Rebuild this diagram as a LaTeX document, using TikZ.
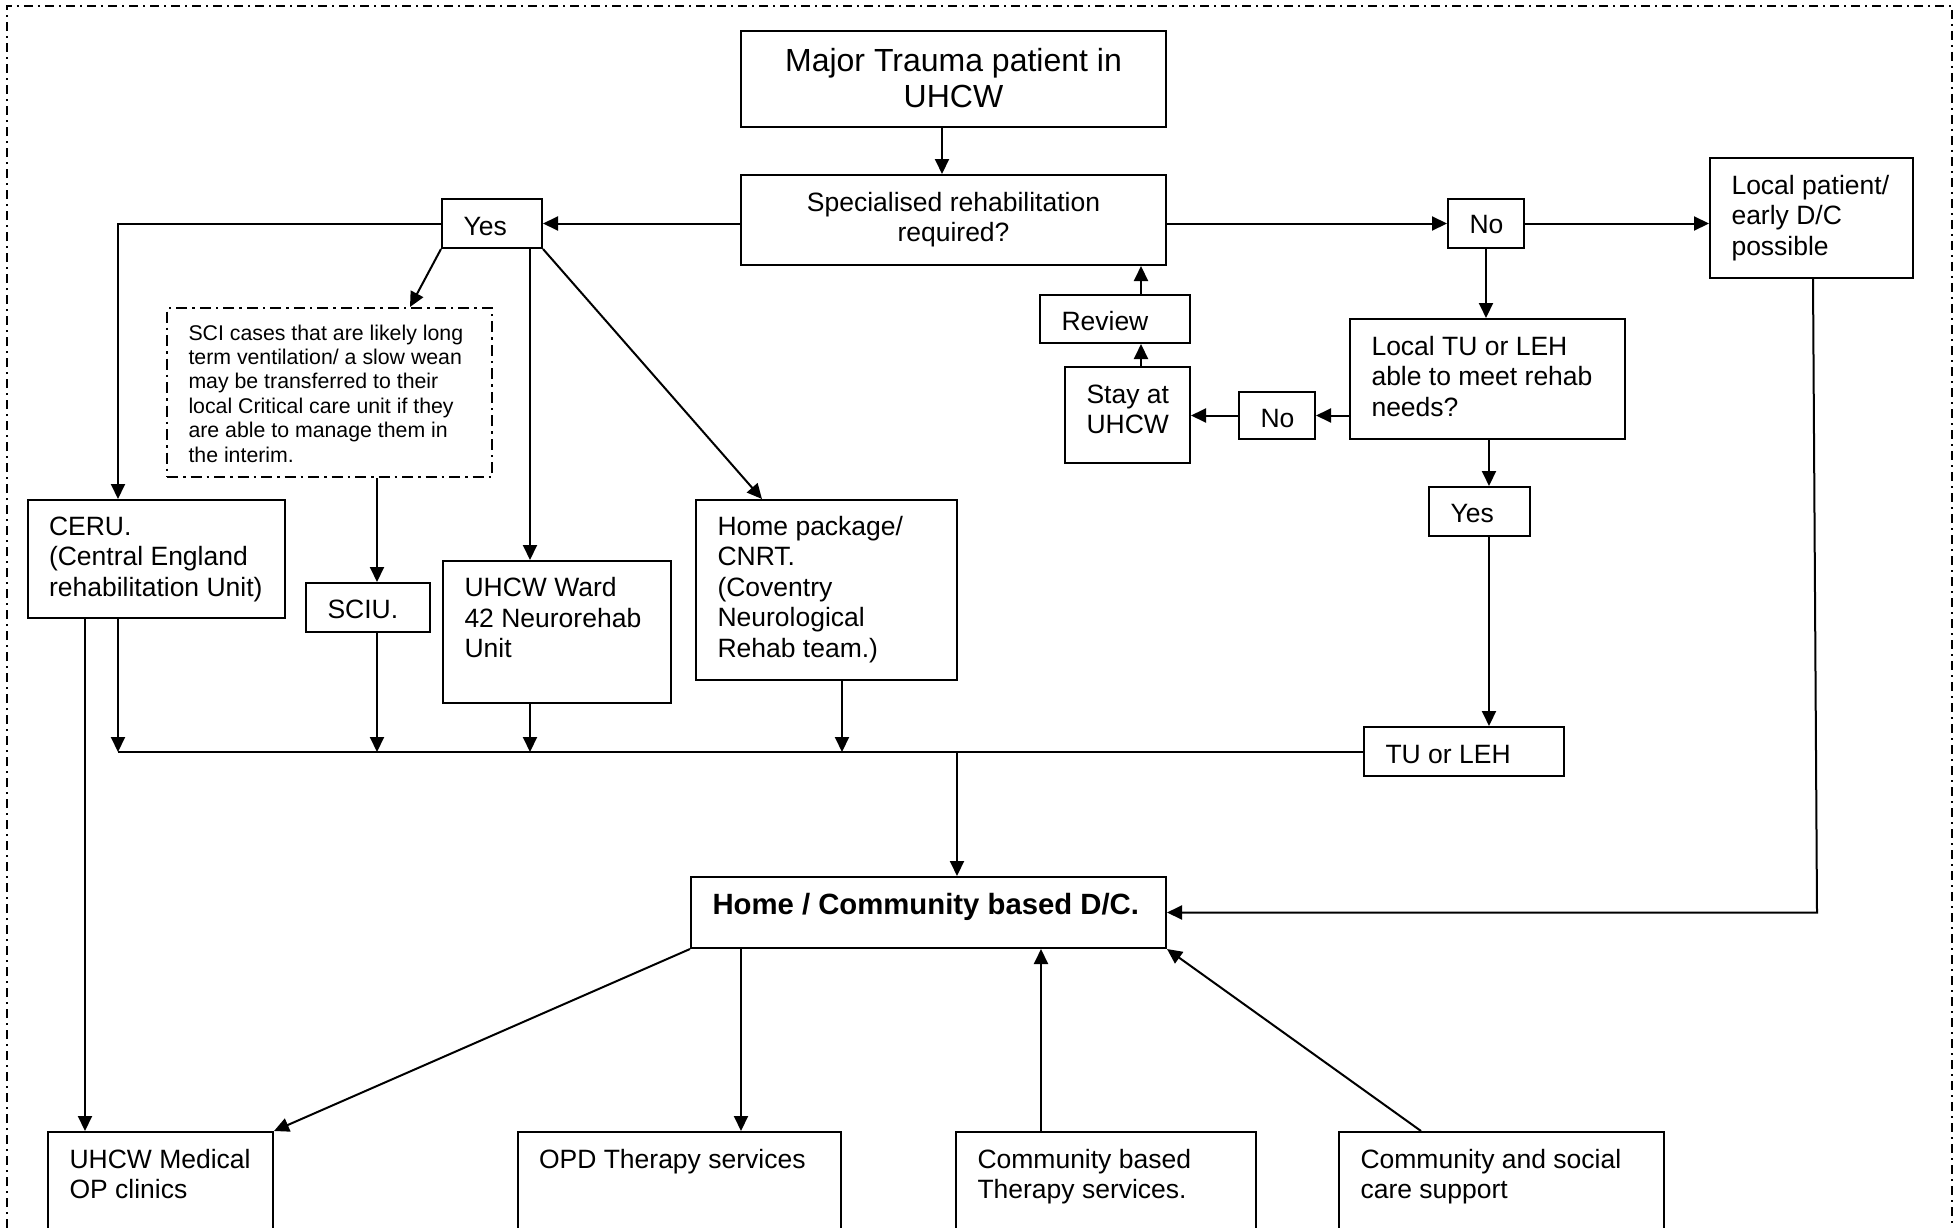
\documentclass[tikz,border=0pt]{standalone}
\usepackage{fontspec}
\setmainfont{Liberation Sans}
\usetikzlibrary{arrows.meta}
% left-aligned box: name, x1, y1, x2, y2, style, first baseline, text
\newcommand\lbox[8]{%
  \node[#6] (#1) at ({(#2+#4)/2},{(#3+#5)/2})
   {\parbox[c][\dimexpr#5pt-#3pt\relax][t]{\dimexpr#4pt-#2pt\relax}{\raggedright\leftskip=21.5pt\relax\rule{0pt}{#7pt}#8}};}
% centred box
\newcommand\cbox[8]{%
  \node[#6] (#1) at ({(#2+#4)/2},{(#3+#5)/2})
   {\parbox[c][\dimexpr#5pt-#3pt\relax][t]{\dimexpr#4pt-#2pt\relax}{\centering\rule{0pt}{#7pt}#8}};}
\tikzset{
  box/.style={draw, line width=2pt, inner sep=0pt, font=\fontsize{26.5}{30.5}\selectfont},
  bigbox/.style={box, font=\fontsize{32}{36}\selectfont},
  boldbox/.style={box, font=\fontsize{29.3}{33}\selectfont\bfseries},
  notebox/.style={box, dash pattern=on 11pt off 5pt on 2.5pt off 5pt, font=\fontsize{21.3}{24.4}\selectfont},
  frame/.style={line width=2pt, dash pattern=on 9pt off 5pt on 2pt off 5pt},
  line/.style={line width=2pt},
  arr/.style={line width=2pt, -{Triangle[length=15pt,width=14pt]}},
}
\begin{document}
\begin{tikzpicture}[x=1pt, y=-1pt]
\useasboundingbox (0,0) rectangle (1959,1228);
\clip (0,0) rectangle (1959,1228);
\draw[frame] (7,1270) -- (7,6) -- (1952,6) -- (1952,1270);

\cbox{maj}{741}{31}{1166}{127}{bigbox}{41}{Major Trauma patient in\\UHCW}
\cbox{spec}{741}{175}{1166}{265}{box}{36}{Specialised rehabilitation\\required?}
\lbox{yes1}{442}{199}{542}{248}{box}{36}{Yes}
\lbox{note}{167}{308}{492}{477}{notebox}{32}{SCI cases that are likely long\\term ventilation/ a slow wean\\may be transferred to their\\local Critical care unit if they\\are able to manage them in\\the interim.}
\lbox{ceru}{27.5}{500}{285}{618}{box}{35}{CERU.\\(Central England\\rehabilitation Unit)}
\lbox{sciu}{306}{583}{430}{632}{box}{35}{SCIU.}
\lbox{ward}{443}{561}{671}{703}{box}{35.5}{UHCW Ward\\42 Neurorehab\\Unit}
\lbox{home}{696}{500}{957}{680}{box}{35}{Home package/\\CNRT.\\(Coventry\\Neurological\\Rehab team.)}
\lbox{hc}{691}{877}{1166}{948}{boldbox}{37}{Home / Community based D/C.}
\lbox{lp}{1710}{158}{1913}{278}{box}{36}{Local patient/\\early D/C\\possible}
\lbox{no1}{1448}{199}{1524}{248}{box}{34.5}{No}
\lbox{ltu}{1350}{319}{1625}{439}{box}{36}{Local TU or LEH\\able to meet rehab\\needs?}
\lbox{no2}{1239}{392}{1315}{439}{box}{35}{No}
\lbox{stay}{1065}{367}{1190}{463}{box}{36}{Stay at\\UHCW}
\lbox{review}{1040}{295}{1190}{343}{box}{35.5}{Review}
\lbox{yes2}{1429}{487}{1530}{536}{box}{35}{Yes}
\lbox{tu}{1364}{727}{1564}{776}{box}{36}{TU or LEH}
\lbox{med}{48}{1132}{273}{1245}{box}{36}{UHCW Medical\\OP clinics}
\lbox{opd}{517.5}{1132}{841}{1245}{box}{36}{OPD Therapy services}
\lbox{cbt}{956}{1132}{1256}{1245}{box}{36}{Community based\\Therapy services.}
\lbox{cs}{1339}{1132}{1664}{1245}{box}{36}{Community and social\\care support}

\coordinate (b1) at (118,752);
\coordinate (b2) at (377,752);
\coordinate (b3) at (530,752);
\coordinate (b4) at (842,752);
\coordinate (b5) at (957,752);
\coordinate (lpc) at (1817,912.5);

\draw[arr] ([xshift=-11.5pt]maj.south) -- ([xshift=-11.5pt]spec.north);
\draw[arr] (spec.west |- yes1.east) -- (yes1.east);
\draw[arr] (yes1.west) -| ([xshift=-38.25pt]ceru.north);
\draw[arr] (yes1.south west) -- ([xshift=80.5pt]note.north);
\draw[arr] ([xshift=38pt]yes1.south) -- ([xshift=-27pt]ward.north);
\draw[arr] (yes1.south east) -- ([xshift=-64.5pt]home.north);
\draw[arr] ([xshift=47.5pt]note.south) -- ([xshift=9pt]sciu.north);
\draw[arr] ([xshift=-71.25pt]ceru.south) -- ([xshift=-75.5pt]med.north);
\draw[arr] ([xshift=-38.25pt]ceru.south) -- (b1);
\draw[arr] ([xshift=9pt]sciu.south) -- (b2);
\draw[arr] ([xshift=-27pt]ward.south) -- (b3);
\draw[arr] ([xshift=15.5pt]home.south) -- (b4);
\draw[line] (b1) -- (b1 -| tu.west);
\draw[arr] (b5) -- ([xshift=28.5pt]hc.north);
\draw[arr] (spec.east |- no1.west) -- (no1.west);
\draw[arr] (no1.east) -- (no1.east -| lp.west);
\draw[arr] (no1.south) -- (no1.south |- ltu.north);
\draw[arr] (ltu.west |- no2.east) -- (no2.east);
\draw[arr] (no2.west) -- (no2.west -| stay.east);
\draw[arr] ([xshift=13.5pt]stay.north) -- ([xshift=26pt]review.south);
\draw[arr] ([xshift=26pt]review.north) -- ([xshift=187.5pt]spec.south);
\draw[arr] ([xshift=1.5pt]ltu.south) -- ([xshift=9.5pt]yes2.north);
\draw[arr] ([xshift=9.5pt]yes2.south) -- ([xshift=25pt]tu.north);
\draw[arr] ([xshift=1.5pt]lp.south) -- (lpc) -- (hc.east);
\draw[arr] (hc.south west) -- (med.north east);
\draw[arr] ([xshift=-187.5pt]hc.south) -- ([xshift=61.75pt]opd.north);
\draw[arr] ([xshift=-65pt]cbt.north) -- ([xshift=112.5pt]hc.south);
\draw[arr] ([xshift=-80.5pt]cs.north) -- (hc.south east);
\end{tikzpicture}
\end{document}
